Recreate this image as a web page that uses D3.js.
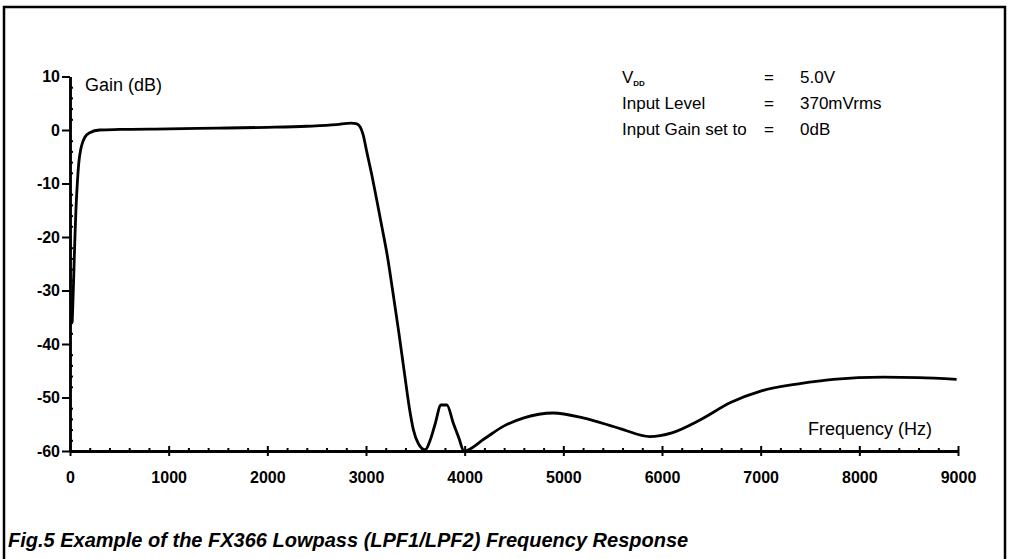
<!DOCTYPE html>
<html>
<head>
<meta charset="utf-8">
<title>FX366 Lowpass Frequency Response</title>
<script src="https://cdn.jsdelivr.net/npm/d3@7/dist/d3.min.js"></script>
<style>
  body { margin: 0; background: #fff; }
  svg { display: block; font-family: 'Liberation Sans', Arial, Helvetica, sans-serif; }
</style>
</head>
<body>
<div id="chart"></div>
<script>
// Values (Hz, dB)
const frequencies = [22, 30, 40, 50, 60, 74, 90, 108, 130, 152, 200, 300, 500, 1000, 1500, 2000,
  2400, 2700, 2850, 2900, 2940, 2970, 3007, 3060, 3108, 3160, 3216, 3270, 3330, 3390, 3440,
  3480, 3530, 3600, 3650, 3700, 3760, 3820, 3885, 3940, 3993, 4200, 4391, 4600, 4898, 5200,
  5574, 5878, 6100, 6385, 6700, 7000, 7398, 7735, 8243, 8600, 8986];
const gains = [-36, -32, -26, -20, -15, -10, -6, -3.7, -2.2, -1.3, -0.5, 0, 0.1, 0.2, 0.35, 0.5,
  0.7, 1.0, 1.3, 1.2, 0.6, -0.8, -4.0, -8.5, -13, -18, -23.5, -30, -37.5, -45.5, -52,
  -56, -58.6, -59.8, -58, -55, -51.4, -51.4, -54.8, -57.5, -60, -57.7, -55.4, -53.8, -52.9, -53.8,
  -55.8, -57.3, -56.6, -54.2, -50.9, -48.8, -47.4, -46.6, -46.2, -46.3, -46.6];

const xTicks = [0, 1000, 2000, 3000, 4000, 5000, 6000, 7000, 8000, 9000];
const yTicks = [10, 0, -10, -20, -30, -40, -50, -60];

const conditionLabels = ['V', 'Input Level', 'Input Gain set to'];
const conditionValues = ['5.0V', '370mVrms', '0dB'];

const caption = 'Fig.5 Example of the FX366 Lowpass (LPF1/LPF2) Frequency Response';

const W = 1009, H = 559;

const svg = d3.select('#chart')
  .append('svg')
    .attr('width', W)
    .attr('height', H);

// Frame round the figure (bottom edge sits off the page)
svg.append('rect')
  .attr('x', 4).attr('y', 7)
  .attr('width', 1001).attr('height', 570)
  .attr('fill', 'none')
  .attr('stroke', '#000')
  .attr('stroke-width', 2.5);

// Scales
const x = d3.scaleLinear().domain([0, 9000]).range([70, 958]);
const y = d3.scaleLinear().domain([-60, 10]).range([451, 76.5]);

function styleAxis(g) {
  g.attr('font-family', null).attr('font-size', null);
  g.select('.domain').attr('stroke', '#000').attr('stroke-width', 2.5);
  g.selectAll('.tick line').attr('stroke', '#000').attr('stroke-width', 2);
  g.selectAll('.tick text')
    .attr('fill', '#000')
    .style('font-size', '16px')
    .style('font-weight', 'bold');
}

// Minor ticks every 200 Hz and every 2 dB
const xMinor = d3.range(0, 9001, 200).filter(d => d % 1000 !== 0);
const yMinor = d3.range(-60, 11, 2).filter(d => d % 10 !== 0);
const plain = d => String(d);

svg.append('g')
  .attr('transform', `translate(0,${y(-60)})`)
  .call(d3.axisTop(x).tickValues(xMinor).tickSize(3).tickSizeOuter(0).tickFormat(''))
  .call(styleAxis);

svg.append('g')
  .attr('transform', `translate(0,${y(-60)})`)
  .call(d3.axisTop(x).tickValues(xTicks).tickSize(5).tickSizeOuter(0).tickFormat(''))
  .call(styleAxis);

svg.append('g')
  .attr('transform', `translate(0,${y(-60)})`)
  .call(d3.axisBottom(x).tickValues(xTicks).tickSize(5).tickSizeOuter(0).tickPadding(16).tickFormat(plain))
  .call(styleAxis);

svg.append('g')
  .attr('transform', `translate(${x(0)},0)`)
  .call(d3.axisRight(y).tickValues(yMinor).tickSize(3).tickSizeOuter(0).tickFormat(''))
  .call(styleAxis);

svg.append('g')
  .attr('transform', `translate(${x(0)},0)`)
  .call(d3.axisLeft(y).tickValues(yTicks).tickSize(8).tickSizeOuter(0).tickPadding(2).tickFormat(plain))
  .call(styleAxis);

// Response curve
const points = frequencies.map((f, i) => [f, gains[i]]);
const line = d3.line()
  .x(d => x(d[0]))
  .y(d => y(d[1]))
  .curve(d3.curveMonotoneX);

svg.append('path')
  .datum(points)
  .attr('d', line)
  .attr('fill', 'none')
  .attr('stroke', '#000')
  .attr('stroke-width', 2.8)
  .attr('stroke-linejoin', 'round');

// Axis titles
svg.append('text')
  .attr('x', 85).attr('y', 91)
  .style('font-size', '18px')
  .text('Gain (dB)');

svg.append('text')
  .attr('x', 808).attr('y', 435)
  .style('font-size', '18px')
  .text('Frequency (Hz)');

// Test conditions
const conds = svg.append('g').style('font-size', '17px');
conditionLabels.forEach((label, i) => {
  const by = 83 + i * 26;
  const t = conds.append('text').attr('x', 622).attr('y', by).text(label);
  if (i === 0) {
    t.append('tspan').attr('dy', 3).style('font-size', '8px').style('font-weight', 'bold').text('DD');
  }
  conds.append('text').attr('x', 769).attr('y', by).attr('text-anchor', 'middle').text('=');
  conds.append('text').attr('x', 800).attr('y', by).text(conditionValues[i]);
});

// Caption
svg.append('text')
  .attr('x', 8).attr('y', 547)
  .style('font-size', '20px')
  .style('font-style', 'italic')
  .style('font-weight', 'bold')
  .text(caption);
</script>
</body>
</html>
